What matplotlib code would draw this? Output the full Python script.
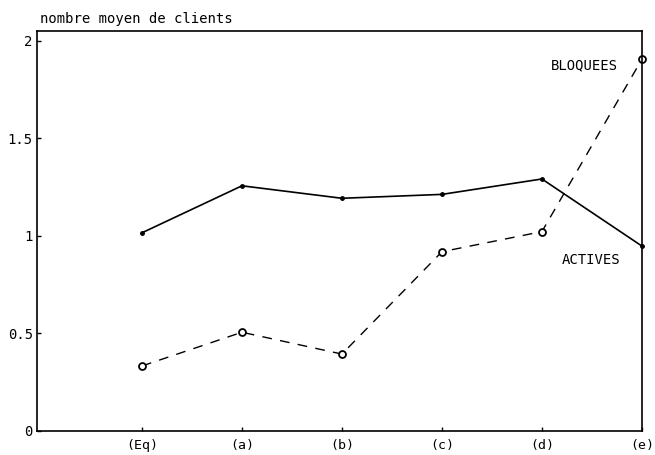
import matplotlib
matplotlib.use('Agg')
import matplotlib.pyplot as plt

# configurations (Eq) then (a)..(e)
labels = ['(Eq)', '(a)', '(b)', '(c)', '(d)', '(e)']
positions = [1, 2, 3, 4, 5, 6]
actives = [1.015, 1.256, 1.192, 1.212, 1.291, 0.947]
bloquees = [0.332, 0.505, 0.393, 0.918, 1.021, 1.905]

plt.rcParams['font.family'] = 'DejaVu Sans Mono'

fig = plt.figure(figsize=(6.55, 4.55), dpi=100)
ax = fig.add_axes([0.0565, 0.0534, 0.9235, 0.8785])

ax.plot(positions, actives, color='black', linewidth=1.2,
        marker='o', markersize=2.5, clip_on=False)
ax.plot(positions, bloquees, color='black', linewidth=1.0,
        dashes=(7, 6), marker='o', markersize=5,
        markerfacecolor='white', markeredgewidth=1.3, clip_on=False)

ax.text(5.76, 1.875, 'BLOQUEES', ha='right', va='center', fontsize=10)
ax.text(5.78, 0.875, 'ACTIVES', ha='right', va='center', fontsize=10)

ax.set_xlim(-0.05, 6.0)
ax.set_ylim(0, 2.05)
ax.set_xticks(positions)
ax.set_xticklabels(labels)
ax.set_yticks([0, 0.5, 1, 1.5, 2])
ax.set_yticklabels(['0', '0.5', '1', '1.5', '2'])
ax.tick_params(direction='in', length=3, width=1, labelsize=10, colors='black')
ax.tick_params(axis='x', pad=6, labelsize=9.5)
ax.tick_params(axis='y', pad=3)

for s in ax.spines.values():
    s.set_linewidth(1.2)

ax.set_title('nombre moyen de clients', loc='left', fontsize=10, pad=6,
             x=0.005)

fig.savefig('out.png', dpi=100)
